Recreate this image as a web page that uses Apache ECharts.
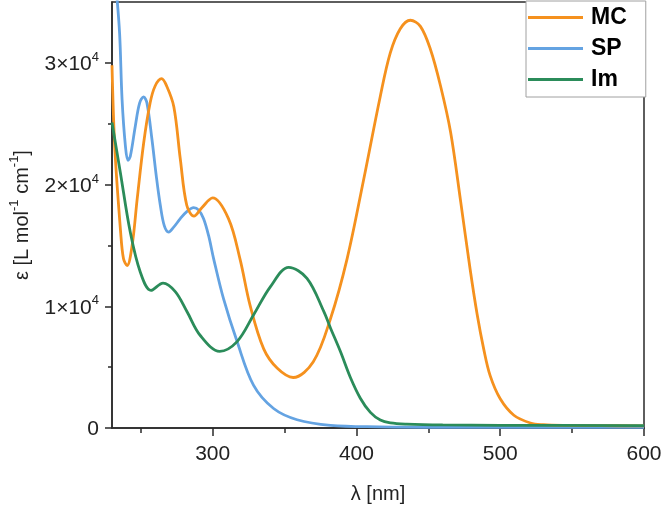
<!DOCTYPE html>
<html>
<head>
<meta charset="utf-8">
<script src="https://cdn.jsdelivr.net/npm/echarts@6/dist/echarts.min.js"></script>
<style>
html,body{margin:0;padding:0;background:#fff;}
#chart{width:666px;height:509px;}
</style>
</head>
<body>
<div id="chart"></div>
<script>
// ---- data ----
var seriesNames = ['MC', 'SP', 'Im'];

var mcNm  = [230, 232, 236, 238, 240.5, 244, 247.5, 252, 256.5, 260, 264.5, 268, 273, 277.5, 282, 287, 292.5, 300, 311, 319, 326, 335.5, 345, 356, 370, 382, 393.5, 405, 416.5, 423.5, 430.5, 437.5, 444.5, 451.5, 458.5, 465.5, 472.5, 479, 484, 488.5, 493, 500, 509.5, 521, 530, 545, 570, 600];
var mcEps = [29800, 22900, 16100, 13900, 13350, 15000, 18800, 23400, 26700, 28100, 28700, 28100, 26400, 22100, 18300, 17400, 18100, 18900, 17200, 13900, 10100, 6500, 4900, 4150, 5450, 9000, 13900, 20400, 27200, 30800, 32800, 33500, 33000, 31100, 28100, 24300, 18600, 13100, 9300, 6500, 4300, 2400, 1050, 410, 270, 210, 190, 180];

var spNm  = [230, 233, 235.3, 237, 239.3, 241.1, 242.7, 246.2, 249.2, 252, 254.3, 257.8, 260.8, 263.6, 266.4, 269.4, 272.9, 277.5, 282.2, 286.8, 290.3, 293.7, 297.2, 300.7, 307.6, 317, 328.5, 342.4, 358.7, 381.9, 416, 460, 600];
var spEps = [40000, 36000, 32400, 27000, 23200, 22000, 22300, 24800, 26700, 27200, 26700, 23700, 20700, 18300, 16600, 16100, 16500, 17200, 17800, 18100, 17900, 17200, 15800, 13900, 10600, 7100, 3500, 1600, 680, 220, 100, 60, 50];

var imNm  = [230, 235.8, 242.7, 249.7, 257.1, 265.5, 274, 282.2, 291.4, 304.9, 317, 328.5, 340.1, 352.9, 365.6, 377.2, 382, 388.8, 395.8, 402.7, 409.7, 416.6, 423.6, 435, 460, 500, 600];
var imEps = [25100, 21000, 16100, 12800, 11300, 11900, 11200, 9550, 7600, 6300, 7100, 9300, 11600, 13200, 12300, 9600, 8200, 6300, 4150, 2450, 1280, 650, 420, 320, 250, 220, 200];

var xLabelTicks = [300, 400, 500, 600];
var xMinorTicks = [250, 350, 450, 550];
var yLabelTicks = [0, 10000, 20000, 30000];
var yMinorTicks = [5000, 15000, 25000];

// ---- chart ----
function pairs(xs, ys) { return xs.map(function (x, i) { return [x, ys[i]]; }); }

var colors = ['#F5911E', '#64A3E2', '#2B8C5A'];
var axisColor = '#2a2a2a';
var font = 'Liberation Sans, Arial, sans-serif';

var chart = echarts.init(document.getElementById('chart'), null, {renderer: 'canvas'});

var option = {
  animation: false,
  color: colors,
  grid: {left: 112, right: 22, top: 2, bottom: 79, show: true, borderColor: axisColor, borderWidth: 1.5, backgroundColor: 'transparent'},
  legend: {
    data: seriesNames,
    orient: 'vertical',
    left: 526,
    top: 1,
    icon: 'rect',
    itemWidth: 55,
    itemHeight: 3,
    itemGap: 8,
    padding: [5, 19, 6, 2],
    borderColor: '#a0a0a0',
    borderWidth: 1,
    backgroundColor: '#fff',
    textStyle: {fontFamily: font, fontSize: 23, fontWeight: 'bold', color: '#000', lineHeight: 23, padding: [0, 0, 0, 3]}
  },
  xAxis: [{
    type: 'value', min: 230, max: 600,
    name: 'λ [nm]', nameLocation: 'middle', nameGap: 56,
    nameTextStyle: {fontFamily: font, fontSize: 20, color: '#222'},
    axisLine: {show: true, lineStyle: {color: axisColor, width: 1.5}},
    axisTick: {show: true, inside: false, length: 8, lineStyle: {color: axisColor, width: 1.5}, customValues: xLabelTicks},
    axisLabel: {fontFamily: font, fontSize: 21, color: '#222', margin: 16, customValues: xLabelTicks},
    splitLine: {show: false}
  }, {
    type: 'value', min: 230, max: 600, position: 'bottom', gridIndex: 0,
    axisLine: {show: false},
    axisTick: {show: true, inside: false, length: 5, lineStyle: {color: axisColor, width: 1.5}, customValues: xMinorTicks},
    axisLabel: {show: false},
    splitLine: {show: false}
  }],
  yAxis: [{
    type: 'value', min: 0, max: 35000,
    name: '{n|ε [L mol}{s|-1}{n| cm}{s|-1}{n|]}',
    nameLocation: 'middle', nameGap: 80, nameRotate: 90,
    nameTextStyle: {
      fontFamily: font, color: '#222',
      rich: {
        n: {fontFamily: font, fontSize: 20, color: '#222', lineHeight: 24, verticalAlign: 'bottom'},
        s: {fontFamily: font, fontSize: 13, color: '#222', lineHeight: 24, verticalAlign: 'top'}
      }
    },
    axisLine: {show: true, lineStyle: {color: axisColor, width: 1.5}},
    axisTick: {show: true, inside: false, length: 7, lineStyle: {color: axisColor, width: 1.5}, customValues: yLabelTicks},
    axisLabel: {
      margin: 13, customValues: yLabelTicks,
      formatter: function (v) { return v === 0 ? '{m|0}' : '{m|' + (v / 10000) + '×10}{s|4}'; },
      rich: {
        m: {fontFamily: font, fontSize: 21, color: '#222', lineHeight: 24, verticalAlign: 'bottom'},
        s: {fontFamily: font, fontSize: 13, color: '#222', lineHeight: 24, verticalAlign: 'top'}
      }
    },
    splitLine: {show: false}
  }, {
    type: 'value', min: 0, max: 35000, position: 'left', gridIndex: 0,
    axisLine: {show: false},
    axisTick: {show: true, inside: false, length: 4, lineStyle: {color: axisColor, width: 1.5}, customValues: yMinorTicks},
    axisLabel: {show: false},
    splitLine: {show: false}
  }],
  series: [
    {name: 'MC', type: 'line', data: pairs(mcNm, mcEps), symbol: 'none', smooth: 0.35, lineStyle: {width: 2.8}, clip: true, z: 3},
    {name: 'SP', type: 'line', data: pairs(spNm, spEps), symbol: 'none', smooth: 0.35, lineStyle: {width: 2.8}, clip: true, z: 2},
    {name: 'Im', type: 'line', data: pairs(imNm, imEps), symbol: 'none', smooth: 0.35, lineStyle: {width: 2.8}, clip: true, z: 4}
  ]
};
chart.setOption(option);
</script>
</body>
</html>
